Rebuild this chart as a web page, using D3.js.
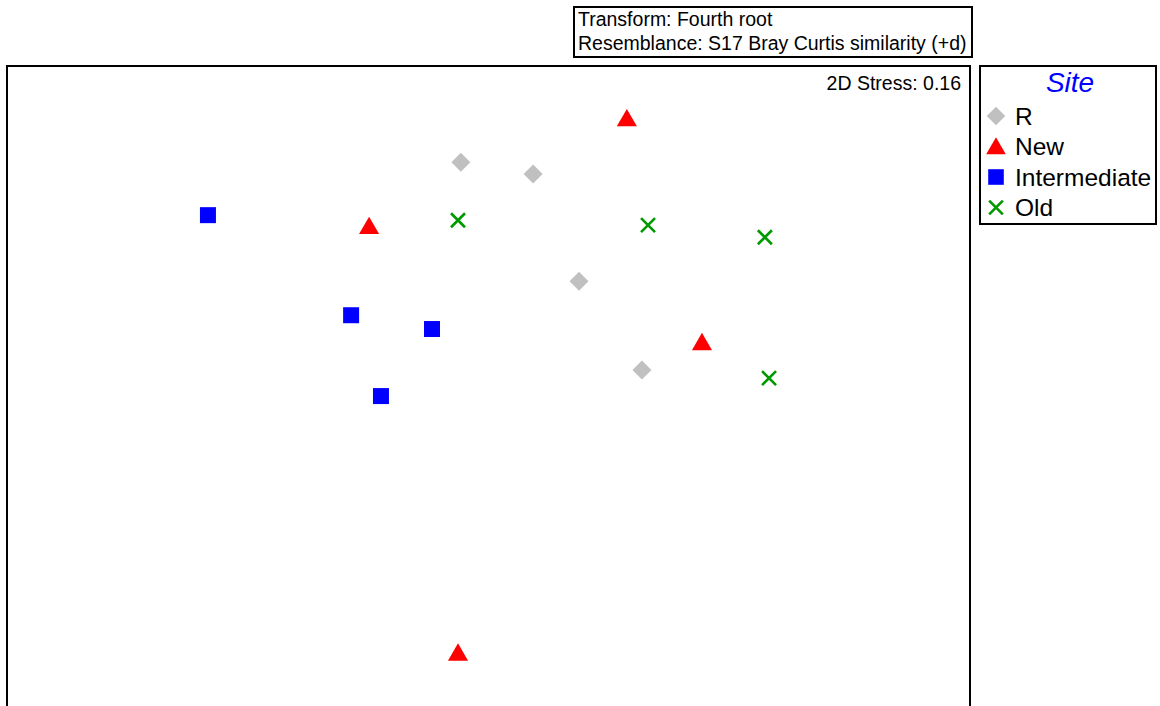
<!DOCTYPE html>
<html>
<head>
<meta charset="utf-8">
<script src="https://cdn.jsdelivr.net/npm/d3@7"></script>
<style>
  body { margin: 0; background: #fff; }
  text { font-family: "Liberation Sans", Arial, sans-serif; }
</style>
</head>
<body>
<div id="chart"></div>
<script>
// nMDS coordinates
const groups = ["R", "New", "Intermediate", "Old"];
const rX = [-0.086, 0.139, 0.282, 0.478];
const rY = [1.000, 0.963, 0.629, 0.352];
const newX = [0.431, -0.372, 0.665, -0.095];
const newY = [1.130, 0.794, 0.432, -0.536];
const interX = [-0.874, -0.428, -0.176, -0.335];
const interY = [0.835, 0.523, 0.480, 0.271];
const oldX = [-0.095, 0.497, 0.861, 0.874];
const oldY = [0.819, 0.804, 0.766, 0.327];
const infoLines = ["Transform: Fourth root", "Resemblance: S17 Bray Curtis similarity (+d)"];
const stressLabel = "2D Stress: 0.16";

const series = [
  { name: "R", xs: rX, ys: rY },
  { name: "New", xs: newX, ys: newY },
  { name: "Intermediate", xs: interX, ys: interY },
  { name: "Old", xs: oldX, ys: oldY }
];

const W = 1160, H = 706;
const svg = d3.select("#chart").append("svg")
  .attr("width", W).attr("height", H);

// plot frame (bottom runs off the page)
const frame = { left: 7, right: 970, top: 66, bottom: 900 };

const x = d3.scaleLinear().domain([-1.5, 1.5]).range([frame.left, frame.right]);
const y = d3.scaleLinear().domain([1.3, -1.3]).range([frame.top, frame.bottom]);

// simple cross symbol drawn as thin lines
const crossSymbol = {
  draw(ctx, size) {
    const r = Math.sqrt(size) / 2;
    ctx.moveTo(-r, -r); ctx.lineTo(r, r);
    ctx.moveTo(r, -r); ctx.lineTo(-r, r);
  }
};
// diamond = square rotated 45deg
const diamondSymbol = {
  draw(ctx, size) {
    const r = Math.sqrt(size / 2);
    ctx.moveTo(0, -r); ctx.lineTo(r, 0); ctx.lineTo(0, r); ctx.lineTo(-r, 0); ctx.closePath();
  }
};

const style = d3.scaleOrdinal().domain(groups).range([
  { type: diamondSymbol, size: 180, fill: "#c0c0c0", stroke: "none" },
  { type: d3.symbolTriangle, size: 175, fill: "#ff0000", stroke: "none" },
  { type: d3.symbolSquare, size: 256, fill: "#0000ff", stroke: "none" },
  { type: crossSymbol, size: 196, fill: "none", stroke: "#009900" }
]);

svg.append("rect")
  .attr("x", frame.left).attr("y", frame.top)
  .attr("width", frame.right - frame.left).attr("height", frame.bottom - frame.top)
  .attr("fill", "none").attr("stroke", "#000").attr("stroke-width", 2);

svg.append("text")
  .attr("x", 961).attr("y", 90)
  .attr("text-anchor", "end")
  .attr("font-size", 19.5)
  .text(stressLabel);

// points
series.forEach(s => {
  const st = style(s.name);
  const pts = s.xs.map((v, i) => [v, s.ys[i]]);
  svg.append("g").selectAll("path")
    .data(pts)
    .enter()
    .append("path")
    .attr("transform", d => "translate(" + x(d[0]) + "," + y(d[1]) + ")")
    .attr("d", d3.symbol().type(st.type).size(st.size))
    .attr("fill", st.fill)
    .attr("stroke", st.stroke)
    .attr("stroke-width", st.stroke === "none" ? 0 : 2.6);
});

// info box top
const info = svg.append("g");
info.append("rect")
  .attr("x", 574).attr("y", 7).attr("width", 398).attr("height", 50)
  .attr("fill", "#fff").attr("stroke", "#000").attr("stroke-width", 2);
info.selectAll("text")
  .data(infoLines)
  .enter()
  .append("text")
  .attr("x", 578)
  .attr("y", (d, i) => 25.5 + i * 24.5)
  .attr("font-size", 19.5)
  .text(d => d);

// legend
const legend = svg.append("g");
legend.append("rect")
  .attr("x", 980).attr("y", 66).attr("width", 176).attr("height", 158)
  .attr("fill", "#fff").attr("stroke", "#000").attr("stroke-width", 2);
legend.append("text")
  .attr("x", 1070).attr("y", 92)
  .attr("text-anchor", "middle")
  .attr("font-size", 28)
  .attr("font-style", "italic")
  .attr("fill", "#0000ff")
  .text("Site");

const items = legend.selectAll("g.item")
  .data(groups)
  .enter()
  .append("g")
  .attr("class", "item")
  .attr("transform", (d, i) => "translate(0," + (116 + i * 30.5) + ")");

items.append("path")
  .attr("transform", d => "translate(996," + (d === "New" ? 2 : 0) + ")")
  .attr("d", d => d3.symbol().type(style(d).type).size(style(d).size * 0.95)())
  .attr("fill", d => style(d).fill)
  .attr("stroke", d => style(d).stroke)
  .attr("stroke-width", d => style(d).stroke === "none" ? 0 : 2.6);

items.append("text")
  .attr("x", 1015).attr("y", 8.5)
  .attr("font-size", 24.5)
  .text(d => d);
</script>
</body>
</html>
